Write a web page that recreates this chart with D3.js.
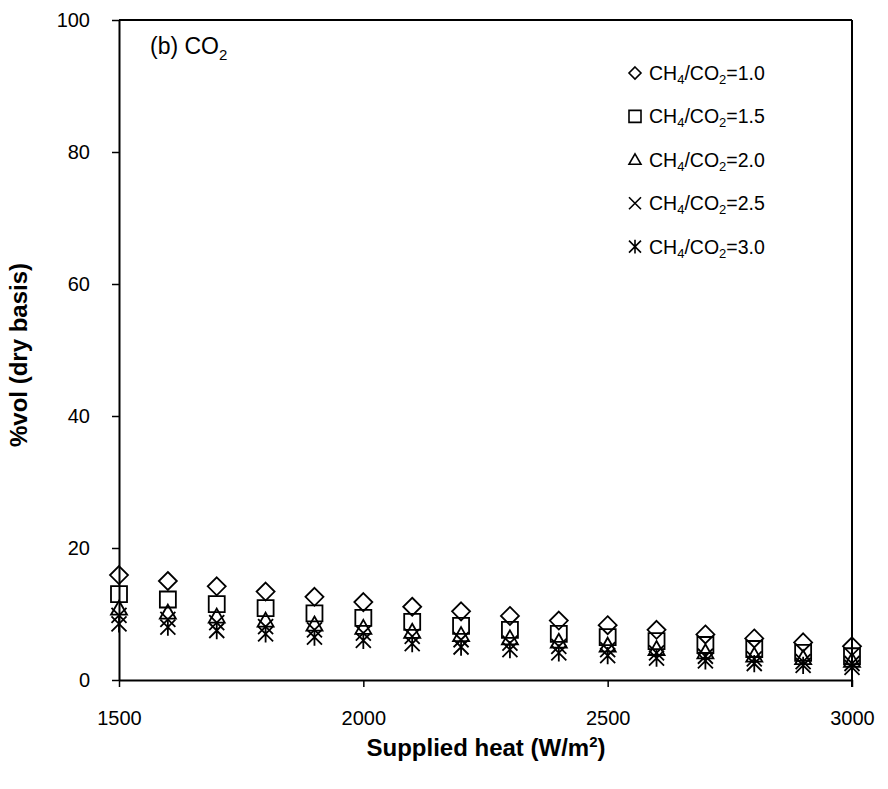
<!DOCTYPE html>
<html><head><meta charset="utf-8">
<script src="https://cdn.jsdelivr.net/npm/d3@7"></script>
<style>body{margin:0;background:#fff}svg{display:block;font-family:"Liberation Sans",Arial,sans-serif}</style>
</head><body><svg id="c" width="888" height="789"></svg>
<script>
const heat = [1500,1600,1700,1800,1900,2000,2100,2200,2300,2400,2500,2600,2700,2800,2900,3000];
const r10 = [15.9,15.0,14.2,13.4,12.6,11.8,11.1,10.4,9.7,9.0,8.3,7.6,6.9,6.3,5.7,5.1];
const r15 = [13.0,12.2,11.5,10.9,10.1,9.4,8.8,8.2,7.6,7.0,6.5,5.9,5.3,4.7,4.1,3.6];
const r20 = [10.8,10.2,9.6,9.0,8.4,7.9,7.3,6.8,6.3,5.8,5.2,4.7,4.2,3.7,3.3,2.9];
const r25 = [9.8,9.2,8.7,8.1,7.6,7.1,6.6,6.1,5.6,5.1,4.6,4.1,3.6,3.2,2.8,2.5];
const r30 = [8.5,8.0,7.5,7.0,6.5,6.0,5.5,5.0,4.6,4.1,3.7,3.3,2.9,2.5,2.2,1.9];
const seriesNames = ["1.0","1.5","2.0","2.5","3.0"];
const seriesShapes = ["diamond","square","triangle","cross","asterisk"];
const xTicks = [1500,2000,2500,3000];
const yTicks = [0,20,40,60,80,100];
const allSeries = [r10,r15,r20,r25,r30];

const svg = d3.select("#c");
const L=119, R=852, T=20, B=680;
const x = d3.scaleLinear().domain([1500,3000]).range([L,R]);
const y = d3.scaleLinear().domain([0,100]).range([B,T]);

function shapePath(shape, s){
  const h=s/2;
  switch(shape){
    case "diamond": return `M0,${-h}L${h},0L0,${h}L${-h},0Z`;
    case "square": return `M${-h},${-h}H${h}V${h}H${-h}Z`;
    case "triangle": return `M0,${-h}L${h},${h*0.75}H${-h}Z`;
    case "cross": return `M${-h},${-h}L${h},${h}M${h},${-h}L${-h},${h}`;
    case "asterisk": return `M${-h},${-h}L${h},${h}M${h},${-h}L${-h},${h}M0,${-h*1.15}V${h*1.15}`;
  }
}
const plotSizes = {diamond:18, square:16, triangle:16, cross:15, asterisk:15};

const gx = svg.append("g").attr("transform",`translate(0,${B})`)
  .call(d3.axisBottom(x).tickValues(xTicks).tickFormat(d3.format("d")).tickSize(7).tickSizeOuter(0).tickPadding(24));
const gy = svg.append("g").attr("transform",`translate(${L},0)`)
  .call(d3.axisLeft(y).tickValues(yTicks).tickFormat(d3.format("d")).tickSize(7).tickSizeOuter(0).tickPadding(22));
[gx,gy].forEach(g=>{
  g.select(".domain").attr("stroke","#000").attr("stroke-width",2);
  g.selectAll(".tick line").attr("stroke","#000").attr("stroke-width",1.5);
  g.selectAll(".tick text").attr("font-size",20).attr("fill","#000").attr("font-family","Liberation Sans, Arial, sans-serif");
});
svg.append("line").attr("x1",L).attr("x2",R).attr("y1",T).attr("y2",T).attr("stroke","#000").attr("stroke-width",2);
svg.append("line").attr("x1",R).attr("x2",R).attr("y1",T).attr("y2",B+7).attr("stroke","#000").attr("stroke-width",2);

allSeries.forEach((vals,i)=>{
  const shape=seriesShapes[i];
  svg.append("g").selectAll("path").data(vals).join("path")
    .attr("transform",(d,j)=>`translate(${x(heat[j])},${y(d)})`)
    .attr("d",shapePath(shape,plotSizes[shape]))
    .attr("fill","none").attr("stroke","#000").attr("stroke-width",1.8);
});

const lab = svg.append("text").attr("x",150).attr("y",54).attr("font-size",23).attr("fill","#000");
lab.append("tspan").text("(b) CO");
lab.append("tspan").attr("font-size",15).attr("dy",6).text("2");

seriesNames.forEach((n,i)=>{
  const cy = 73 + i*43.4;
  const shape=seriesShapes[i];
  svg.append("path").attr("transform",`translate(635,${cy})`)
    .attr("d",shapePath(shape,12)).attr("fill","none").attr("stroke","#000").attr("stroke-width",1.6);
  const t = svg.append("text").attr("x",649).attr("y",cy+7).attr("font-size",19.5).attr("fill","#000");
  t.append("tspan").text("CH");
  t.append("tspan").attr("font-size",13).attr("dy",4).text("4");
  t.append("tspan").attr("dy",-4).text("/CO");
  t.append("tspan").attr("font-size",13).attr("dy",4).text("2");
  t.append("tspan").attr("dy",-4).text("="+n);
});

const xt = svg.append("text").attr("x",486).attr("y",756).attr("text-anchor","middle")
  .attr("font-size",24).attr("font-weight","bold").attr("fill","#000");
xt.append("tspan").text("Supplied heat (W/m");
xt.append("tspan").attr("font-size",15).attr("dy",-9).text("2");
xt.append("tspan").attr("dy",9).text(")");
svg.append("text").attr("transform","translate(27,355) rotate(-90)").attr("text-anchor","middle")
  .attr("font-size",24).attr("font-weight","bold").attr("fill","#000").text("%vol (dry basis)");
</script></body></html>
